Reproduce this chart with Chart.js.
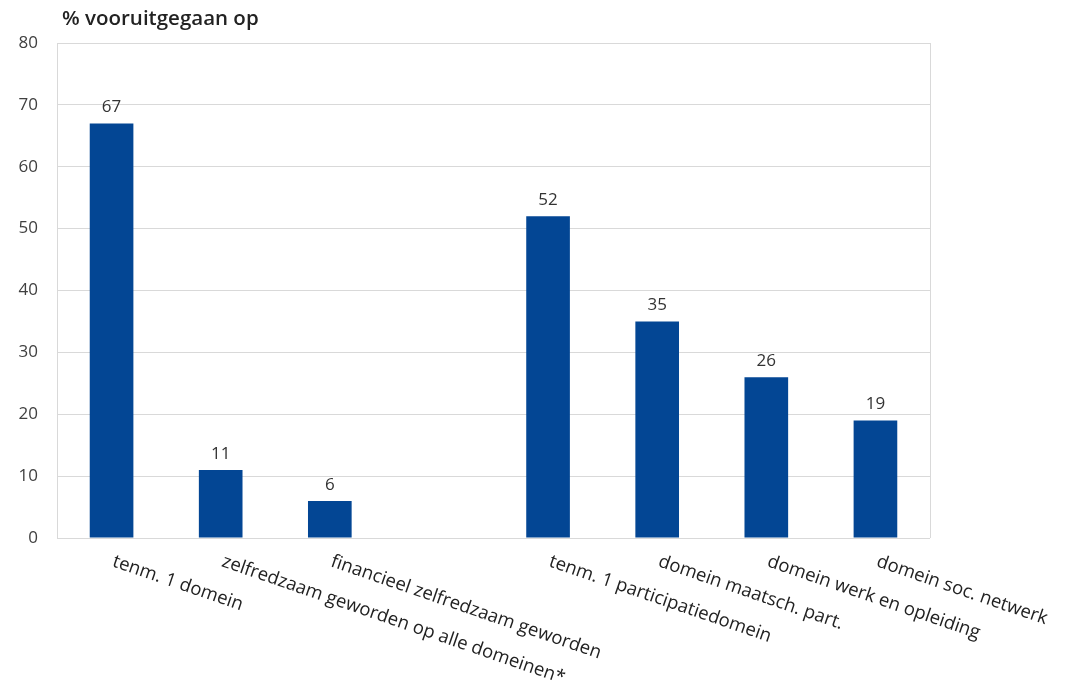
<!DOCTYPE html>
<html lang="nl">
<head>
  <meta charset="utf-8">
  <title>% vooruitgegaan op</title>
  <script src="https://cdn.jsdelivr.net/npm/chart.js@4.4.1/dist/chart.umd.min.js"></script>
  <style>
    body { margin: 0; background: #fff; }
    canvas { display: block; }
  </style>
</head>
<body>
  <canvas id="vooruitChart" width="1072" height="688"></canvas>

  <script>
    // categorieen (lege plek = tussenruimte tussen de twee groepen)
    const categories = [
      'tenm. 1 domein',
      'zelfredzaam geworden op alle domeinen*',
      'financieel zelfredzaam geworden',
      '',
      'tenm. 1 participatiedomein',
      'domein maatsch. part.',
      'domein werk en opleiding',
      'domein soc. netwerk'
    ];
    const percentages = [67, 11, 6, null, 52, 35, 26, 19];
    const yTicks = [0, 10, 20, 30, 40, 50, 60, 70, 80];

    const FONT = '"Open Sans", sans-serif';
    const BAR_COLOR = '#034694';

    // titel, waardelabels, schuine categorielabels en kader van het plotgebied
    const extraDraw = {
      id: 'extraDraw',
      afterDatasetsDraw(chart) {
        const ctx = chart.ctx;
        const area = chart.chartArea;
        const x = chart.scales.x;
        const y = chart.scales.y;
        ctx.save();

        // rechterrand van het plotgebied
        ctx.strokeStyle = '#d9d9d9';
        ctx.lineWidth = 1;
        ctx.beginPath();
        ctx.moveTo(Math.round(area.right) + 0.5, area.top);
        ctx.lineTo(Math.round(area.right) + 0.5, area.bottom);
        ctx.stroke();

        // titel
        ctx.fillStyle = '#222';
        ctx.font = '600 20.5px ' + FONT;
        ctx.textAlign = 'left';
        ctx.textBaseline = 'alphabetic';
        ctx.fillText('% vooruitgegaan op', area.left + 5, 25);

        // waarden boven de staven
        ctx.font = '17px ' + FONT;
        ctx.fillStyle = '#333';
        ctx.textAlign = 'center';
        ctx.textBaseline = 'alphabetic';
        chart.getDatasetMeta(0).data.forEach((bar, i) => {
          if (percentages[i] == null) return;
          ctx.fillText(String(percentages[i]), bar.x, bar.y - 11);
        });

        // categorielabels, schuin naar rechtsonder
        ctx.font = '18.5px ' + FONT;
        ctx.fillStyle = '#222';
        ctx.textAlign = 'left';
        ctx.textBaseline = 'alphabetic';
        categories.forEach((label, i) => {
          if (!label) return;
          const cx = x.getPixelForValue(i);
          ctx.save();
          ctx.translate(cx, y.getPixelForValue(0) + 28);
          ctx.rotate(19 * Math.PI / 180);
          ctx.fillText(label, 0, 0);
          ctx.restore();
        });

        ctx.restore();
      }
    };

    new Chart(document.getElementById('vooruitChart'), {
      type: 'bar',
      data: {
        labels: categories,
        datasets: [{
          data: percentages,
          backgroundColor: BAR_COLOR,
          categoryPercentage: 1,
          barPercentage: 0.4
        }]
      },
      options: {
        responsive: false,
        animation: false,
        layout: { padding: { top: 43, right: 142, bottom: 142, left: 0 } },
        plugins: {
          legend: { display: false },
          tooltip: { enabled: false }
        },
        scales: {
          x: {
            ticks: { display: false },
            grid: { display: false },
            border: { display: false }
          },
          y: {
            min: 0,
            max: 80,
            afterBuildTicks(scale) {
              scale.ticks = yTicks.map(v => ({ value: v }));
            },
            afterFit(scale) { scale.width = 57; },
            ticks: {
              color: '#404040',
              font: { family: FONT, size: 17 },
              padding: 19
            },
            grid: { color: '#d9d9d9', drawTicks: false },
            border: { display: true, color: '#d9d9d9' }
          }
        }
      },
      plugins: [extraDraw]
    });
  </script>
</body>
</html>
